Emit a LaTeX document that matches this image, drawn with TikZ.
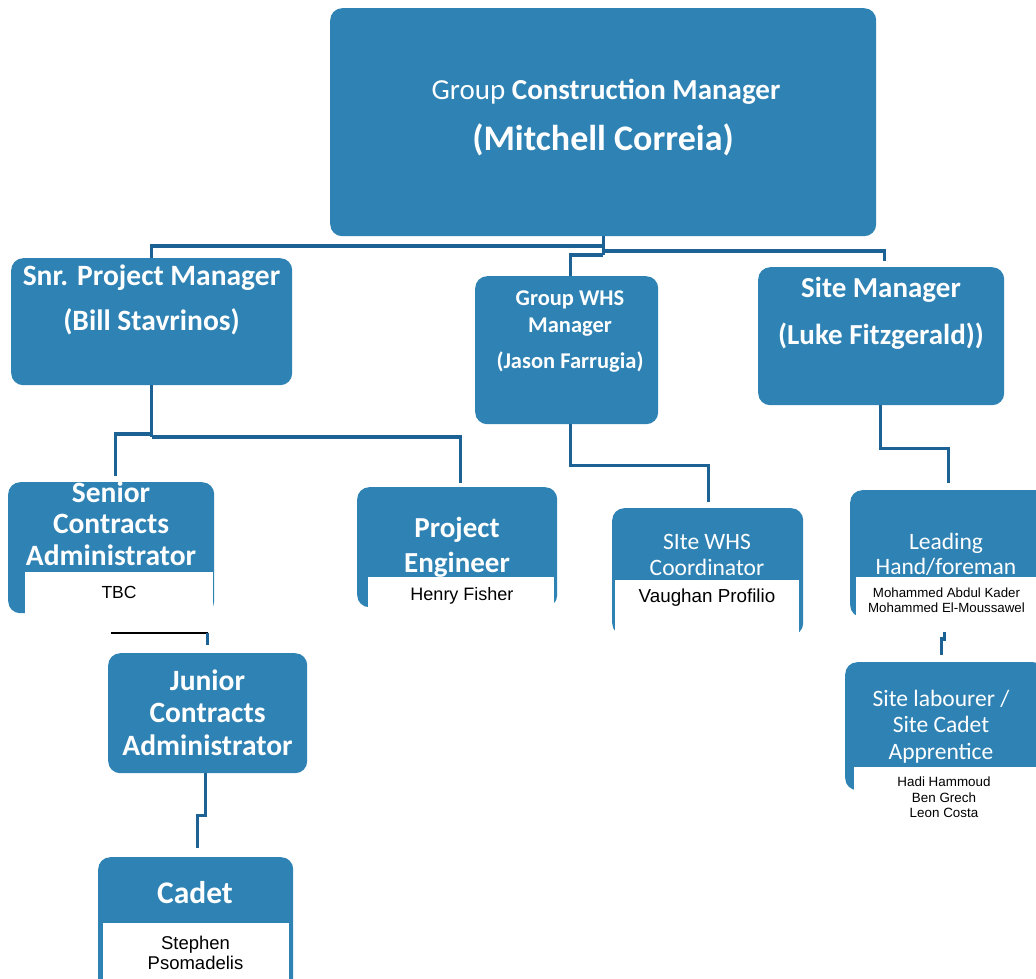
\documentclass[tikz,border=0pt]{standalone}
\usepackage{fontspec}
\setmainfont{Carlito}
\newfontfamily\arialf{Liberation Sans}
\usetikzlibrary{calc}
\definecolor{boxblue}{RGB}{46,130,180}
\definecolor{linkblue}{RGB}{28,98,148}
\newcommand{\fs}[2]{\fontsize{#1}{#2}\selectfont}
\begin{document}
\begin{tikzpicture}[x=1pt,y=-1pt,
  box/.style={fill=boxblue, rounded corners=12pt, inner sep=0pt, anchor=north west},
  panel/.style={fill=white, inner sep=0pt, anchor=north west},
  head/.style={text=white, align=center, inner sep=0pt},
  who/.style={text=black, align=center, font=\arialf, inner sep=0pt},
  conn/.style={draw=linkblue, line width=3.4pt},
  thinconn/.style={draw=black, line width=1.3pt},
]
\useasboundingbox (0,0) rectangle (1036,979);

% boxes
\node[box, minimum width=546, minimum height=228] (gcm) at (330,8) {};
\node[box, minimum width=281, minimum height=127] (spm) at (11,258) {};
\node[box, minimum width=183, minimum height=148] (whs) at (475,276) {};
\node[box, minimum width=246, minimum height=138] (sm) at (758,267) {};
\node[box, minimum width=206, minimum height=131] (sca) at (8,482) {};
\node[box, minimum width=200, minimum height=120] (pe) at (357,487) {};
\node[box, minimum width=191, minimum height=127] (swc) at (612,508) {};
\node[box, minimum width=200, minimum height=127] (lh) at (850,490) {};
\node[box, minimum width=200, minimum height=128] (sl) at (845,662) {};
\node[box, minimum width=199, minimum height=120] (jca) at (108,653) {};
\node[box, minimum width=195, minimum height=140] (cad) at (98,857) {};

% white name panels
\node[panel, minimum width=188, minimum height=42] (scaP) at (25,572) {};
\node[panel, minimum width=186, minimum height=32] (peP) at (368,577) {};
\node[panel, minimum width=184, minimum height=58] (swcP) at (615,580) {};
\node[panel, minimum width=185, minimum height=42] (lhP) at (856,577) {};
\node[panel, minimum width=190, minimum height=50] (slP) at (854,767) {};
\node[panel, minimum width=186, minimum height=60] (cadP) at (103,923) {};

% header texts
\node[head, font=\fs{29}{33}] (gcmA) at (606,92) {Group \textbf{Construction Manager}};
\node[head, font=\fs{36}{40}\bfseries] (gcmB) at (603,140) {(Mitchell Correia)};
\node[head, font=\fs{29.5}{45}\bfseries] (spmT) at (151.5,299.5) {Snr. Project Manager\\(Bill Stavrinos)};
\node[head, font=\fs{22.5}{27}\bfseries] (whsT) at (570,331.5) {Group WHS\\Manager\\[9pt](Jason Farrugia)};
\node[head, font=\fs{29}{47}\bfseries] (smT) at (881,313.5) {Site Manager\\(Luke Fitzgerald))};
\node[head, font=\fs{29.5}{31.5}\bfseries] (scaT) at (111,523.5) {Senior\\Contracts\\Administrator};
\node[head, font=\fs{29}{35}\bfseries] (peT) at (457,547.5) {Project\\Engineer};
\node[head, font=\fs{23.5}{26}] (swcT) at (707,555) {SIte WHS\\Coordinator};
\node[head, font=\fs{23.5}{25}] (lhT) at (946,554.5) {Leading\\Hand/foreman};
\node[head, font=\fs{23.5}{26.5}] (slT) at (941,726.5) {Site labourer /\\Site Cadet\\Apprentice};
\node[head, font=\fs{29.5}{32.5}\bfseries] (jcaT) at (207.5,712.5) {Junior\\Contracts\\Administrator};
\node[head, font=\fs{31.5}{34}\bfseries] (cadT) at (195,893) {Cadet};

% names
\node[who, font=\arialf\fs{17.5}{20}] (scaN) at (119,592) {TBC};
\node[who, font=\arialf\fs{18}{20}] (peN) at (462,596) {Henry Fisher};
\node[who, font=\arialf\fs{18.8}{21}] (swcN) at (707,598) {Vaughan Profilio};
\node[who, font=\arialf\fs{13.3}{15}] (lhN) at (946.5,600.5) {Mohammed Abdul Kader\\Mohammed El-Moussawel};
\node[who, font=\arialf\fs{13.4}{15.5}] (slN) at (944,797.5) {Hadi Hammoud\\Ben Grech\\Leon Costa};
\node[who, font=\arialf\fs{18.5}{20}] (cadN) at (195.5,953) {Stephen\\Psomadelis};

% connectors
\draw[conn] (gcm.south) -- ++(0,19);
\draw[conn] (gcm.south |- 0,246) -| (spm.north);
\draw[conn] (gcm.south |- 0,251) -| ($(sm.north)+(3,-6)$);
\draw[conn] (gcm.south |- 0,255) -| ($(whs.north)+(3.5,0)$);

\draw[conn] (spm.south) -- (spm.south |- 0,437);
\draw[conn] (spm.south |- 0,434) -| ($(sca.north)+(4,-6)$);
\draw[conn] (spm.south |- 0,437) -| ($(pe.north)+(3,-4)$);

\draw[thinconn] ($(jca.north)+(-97,-20)$) -- ($(jca.north)+(0,-20)$);
\draw[conn] ($(jca.north)+(0,-20)$) -- ($(jca.north)+(0,-8)$);
\draw[conn] ($(jca.south)+(-2,0)$) -- ++(0,42) -| ($(cad.north)+(2,-9)$);

\draw[conn] ($(whs.south)+(3.5,0)$) -- ++(0,41) -| ($(swc.north)+(0.5,-6)$);
\draw[conn] ($(sm.south)+(-1,0)$) -- ++(0,43) -| ($(lh.north)+(-2,-7)$);
\draw[conn] ($(sl.north)+(-1,-30)$) -- ++(0,7) -- ++(-3,0) -- ++(0,16);
\end{tikzpicture}
\end{document}
